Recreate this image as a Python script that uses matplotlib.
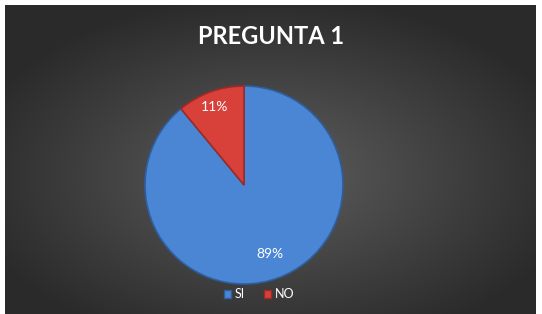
import matplotlib.pyplot as plt
import numpy as np
from matplotlib.patches import Patch

labels = ['SI', 'NO']
values = [89, 11]
colors = ['#4a86d4', '#d8403a']
edges = ['#2f5e9e', '#9e2a25']

plt.rcParams['font.family'] = ['Lato', 'DejaVu Sans']

fig = plt.figure(figsize=(5.42, 3.14), dpi=100)
fig.patch.set_facecolor('white')

# fondo con degradado radial
bg = fig.add_axes([5 / 542, 0, 531 / 542, 309 / 314])
yy, xx = np.mgrid[-1:1:300j, -1:1:500j]
r = np.sqrt((xx * 0.85) ** 2 + ((yy - 0.1) * 0.85) ** 2)
r = np.clip(r, 0, 1)
c0 = np.array([0x5e, 0x5e, 0x5e]) / 255
c1 = np.array([0x2a, 0x2a, 0x2a]) / 255
img = c0[None, None, :] * (1 - r[..., None]) + c1[None, None, :] * r[..., None]
bg.imshow(img, aspect='auto', extent=[0, 1, 0, 1])
bg.axis('off')

ax = fig.add_axes([(244 - 100) / 542, (129 - 100) / 314, 200 / 542, 200 / 314])
wedges, texts, autotexts = ax.pie(values, colors=colors, startangle=90, counterclock=False,
                                   autopct='%1.0f%%', pctdistance=0.8,
                                   wedgeprops=dict(linewidth=1.2))
for w, e in zip(wedges, edges):
    w.set_edgecolor(e)
for t in autotexts:
    t.set_color('white')
    t.set_fontsize(10)
autotexts[0].set_position((0.26, -0.70))
autotexts[1].set_position((-0.30, 0.79))
ax.set_xlim(-1.01, 1.01)
ax.set_ylim(-1.01, 1.01)
ax.set_aspect('equal')

fig.text(0.5, 0.885, 'PREGUNTA 1', ha='center', va='center', color='white',
         fontsize=17, fontweight='bold')

handles = [Patch(facecolor=c, edgecolor=e) for c, e in zip(colors, edges)]
fig.legend(handles, labels, loc='center', bbox_to_anchor=(0.478, 0.063), ncol=2,
           frameon=False, labelcolor='white', fontsize=9, handlelength=0.6,
           handleheight=0.6, handletextpad=0.3, columnspacing=1.5)

fig.savefig('out.png', dpi=100, facecolor='white')
